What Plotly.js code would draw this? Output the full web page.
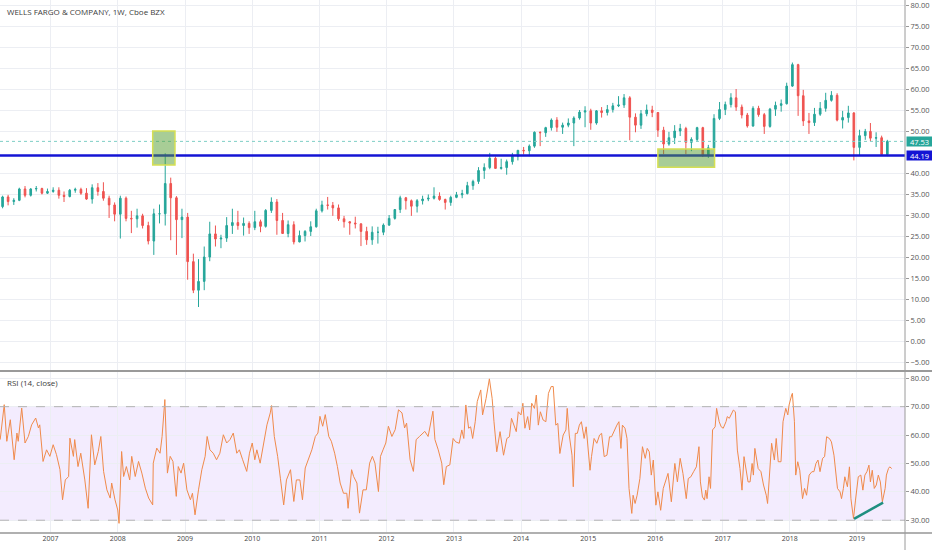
<!DOCTYPE html>
<html>
<head>
<meta charset="utf-8">
<script src="https://cdn.plot.ly/plotly-3.0.1.min.js"></script>
<style>html,body{margin:0;padding:0;background:#fff;}#chart{width:932px;height:550px;}</style>
</head>
<body>
<div id="chart"></div>
<script>
// ---- Monthly candles, WFC (Apr 2006 .. Jun 2019) ----
const firstYear = 2006, firstMonth = 4;
const opens = [
 32.0,34.3,33.2,33.5,36.2,34.7,36.2,36.3,35.2,
 35.6,35.9,34.7,34.4,35.9,36.1,35.2,33.8,36.5,35.6,34.0,32.4,
 30.2,34.0,29.2,29.1,29.8,27.5,23.8,30.3,30.3,37.5,34.1,28.9,
 29.5,18.9,12.1,14.2,20.0,25.5,24.3,24.5,27.5,28.2,27.5,28.0,
 27.0,28.4,27.3,31.1,33.1,28.7,25.6,27.7,23.6,25.1,26.1,27.2,
 31.0,32.4,32.3,31.7,29.1,28.4,28.1,27.9,26.1,24.1,25.9,25.9,
 27.6,29.2,31.3,34.1,33.4,32.1,33.4,33.8,34.0,34.5,33.7,33.0,
 34.2,34.8,35.1,37.0,38.0,40.6,41.3,43.5,41.1,41.3,42.7,44.0,
 45.4,45.3,46.4,49.7,49.6,50.8,52.6,50.9,51.4,51.9,53.1,54.5,
 54.8,51.9,54.8,54.4,55.1,56.0,56.2,57.9,53.3,51.4,54.1,55.0,
 54.4,50.2,46.9,48.4,50.0,50.6,47.3,48.0,50.8,44.3,46.0,53.0,
 55.1,56.3,57.9,55.7,53.8,51.2,55.4,53.9,51.1,55.2,56.1,56.5,
 60.7,65.8,58.4,52.4,52.0,54.0,55.4,57.3,58.5,52.6,53.2,54.3,
 46.1,48.9,49.9,48.3,48.4,44.4
];
const highs = [
 34.6,34.8,34.0,36.5,36.9,36.4,36.9,36.5,36.3,
 36.6,36.6,35.6,36.2,36.5,36.5,36.4,37.3,37.6,37.8,34.6,33.0,
 34.6,34.4,31.0,31.5,30.3,28.4,31.5,32.5,44.7,38.9,34.5,31.5,
 30.5,20.8,19.5,22.5,28.4,27.5,25.3,29.5,31.5,31.0,29.4,28.5,
 31.0,28.9,31.4,34.2,33.8,30.5,28.7,28.5,26.3,26.4,28.5,31.5,
 33.4,34.3,33.1,32.5,29.8,28.5,29.6,28.0,27.2,27.3,27.2,28.0,
 30.0,31.4,34.6,34.3,33.7,33.8,34.6,34.9,36.6,35.4,33.9,34.6,
 35.5,36.0,37.9,38.4,41.4,42.3,44.8,43.9,43.4,43.2,44.8,45.5,
 46.2,46.8,49.9,49.9,51.0,53.0,53.3,52.0,53.0,53.5,55.0,55.9,
 55.3,55.0,55.7,56.2,56.7,58.3,58.8,58.3,54.2,55.0,56.3,56.0,
 54.5,51.0,49.8,51.4,51.7,51.0,48.5,51.0,51.0,46.7,54.0,56.9,
 57.0,59.0,60.0,56.3,54.3,55.9,56.0,54.3,55.5,57.0,57.5,61.5,
 66.3,66.0,59.8,54.3,55.5,56.9,59.1,59.5,59.0,54.8,56.0,54.5,
 50.3,50.5,51.9,49.7,48.9,47.9
];
const lows = [
 31.6,32.3,32.4,33.3,34.2,34.4,35.6,34.9,35.0,
 35.3,33.9,33.1,34.2,35.3,34.8,33.6,32.7,34.6,33.4,29.3,28.5,
 24.4,28.5,25.7,27.0,26.8,23.0,20.5,28.0,27.5,24.0,20.5,24.5,
 14.6,11.4,8.1,12.1,19.0,22.5,22.1,23.6,25.5,26.5,25.1,25.5,
 26.4,25.9,27.0,30.5,25.3,25.6,24.7,23.0,23.5,23.7,25.0,27.0,
 30.6,31.3,29.8,28.6,27.0,25.3,26.8,22.6,22.9,22.9,23.2,25.2,
 27.4,28.9,30.5,31.3,29.8,30.6,32.5,33.3,33.7,33.4,31.3,32.2,
 34.0,34.0,34.9,36.0,37.4,38.6,40.9,41.0,40.8,39.6,42.0,43.0,
 44.4,44.0,46.0,46.4,48.6,50.1,49.8,49.3,50.9,46.4,52.7,50.9,
 50.3,51.5,53.2,53.7,54.4,55.7,55.5,47.8,49.7,50.5,53.5,53.3,
 48.6,44.5,46.5,46.9,48.8,44.5,45.2,47.5,43.8,43.6,45.6,52.6,
 53.8,55.6,54.8,53.0,50.8,51.0,53.4,49.3,50.8,53.6,54.6,56.3,
 60.5,53.6,51.2,49.3,51.2,53.6,54.6,57.0,52.3,50.6,52.0,43.0,
 44.2,47.9,47.6,46.2,44.4,44.0
];
const closes = [
 34.3,33.2,33.5,36.2,34.7,36.2,36.3,35.2,35.6,
 35.9,34.7,34.4,35.9,36.1,35.2,33.8,36.5,35.6,34.0,32.4,30.2,
 34.0,29.2,29.1,29.8,27.5,23.8,30.3,30.3,37.5,34.1,28.9,29.5,
 18.9,12.1,14.2,20.0,25.5,24.3,24.5,27.5,28.2,27.5,28.0,27.0,
 28.4,27.3,31.1,33.1,28.7,25.6,27.7,23.6,25.1,26.1,27.2,31.0,
 32.4,32.3,31.7,29.1,28.4,28.1,27.9,26.1,24.1,25.9,25.9,27.6,
 29.2,31.3,34.1,33.4,32.1,33.4,33.8,34.0,34.5,33.7,33.0,34.2,
 34.8,35.1,37.0,38.0,40.6,41.3,43.5,41.1,41.3,42.7,44.0,45.4,
 45.3,46.4,49.7,49.6,50.8,52.6,50.9,51.4,51.9,53.1,54.5,54.8,
 51.9,54.8,54.4,55.1,56.0,56.2,57.9,53.3,51.4,54.1,55.0,54.4,
 50.2,46.9,48.4,50.0,50.6,47.3,48.0,50.8,44.3,46.0,53.0,55.1,
 56.3,57.9,55.7,53.8,51.2,55.4,53.9,51.1,55.2,56.1,56.5,60.7,
 65.8,58.4,52.4,52.0,54.0,55.4,57.3,58.5,52.6,53.2,54.3,46.1,
 48.9,49.9,48.3,48.4,44.4,47.53
];

// ---- RSI(14, close), time in decimal years ----
const rsiT = [
 2006.25,2006.31,2006.35,2006.40,2006.46,2006.50,2006.52,2006.57,2006.62,2006.67,2006.72,2006.78,2006.82,2006.84,2006.89,2006.94,2006.99,
 2007.04,2007.09,2007.14,2007.18,2007.22,2007.27,2007.29,2007.34,2007.36,2007.41,2007.45,2007.51,2007.56,2007.61,2007.66,2007.71,2007.75,2007.79,2007.84,2007.89,2007.91,2007.96,
 2008.00,2008.02,2008.06,2008.09,2008.13,2008.18,2008.21,2008.26,2008.31,2008.36,2008.41,2008.46,2008.52,2008.53,2008.58,2008.63,2008.66,2008.70,2008.74,2008.78,2008.82,2008.87,2008.90,2008.94,2008.98,
 2009.03,2009.08,2009.11,2009.15,2009.20,2009.25,2009.30,2009.33,2009.37,2009.42,2009.47,2009.52,2009.57,2009.62,2009.67,2009.72,2009.77,2009.81,2009.86,2009.92,2009.96,
 2010.00,2010.04,2010.07,2010.12,2010.17,2010.22,2010.27,2010.29,2010.33,2010.38,2010.42,2010.47,2010.51,2010.57,2010.62,2010.66,2010.71,2010.75,2010.79,2010.84,2010.89,2010.94,2010.98,
 2011.01,2011.05,2011.09,2011.14,2011.18,2011.23,2011.27,2011.31,2011.36,2011.41,2011.43,2011.48,2011.51,2011.56,2011.60,2011.65,2011.70,2011.75,2011.79,2011.83,2011.88,2011.91,2011.95,2011.99,
 2012.03,2012.08,2012.13,2012.18,2012.23,2012.27,2012.30,2012.35,2012.40,2012.44,2012.49,2012.52,2012.57,2012.62,2012.69,2012.72,2012.77,2012.82,2012.85,2012.89,2012.94,2012.99,
 2013.03,2013.08,2013.12,2013.15,2013.18,2013.22,2013.25,2013.28,2013.32,2013.35,2013.40,2013.43,2013.48,2013.53,2013.57,2013.60,2013.64,2013.69,2013.74,2013.79,2013.83,2013.86,2013.90,2013.93,2013.96,
 2014.00,2014.03,2014.06,2014.10,2014.13,2014.16,2014.20,2014.23,2014.26,2014.29,2014.33,2014.37,2014.41,2014.45,2014.48,2014.52,2014.55,2014.58,2014.63,2014.67,2014.69,2014.72,2014.76,2014.78,2014.81,2014.84,2014.87,2014.90,2014.94,2014.97,
 2015.00,2015.03,2015.05,2015.09,2015.13,2015.17,2015.20,2015.24,2015.28,2015.32,2015.35,2015.39,2015.43,2015.46,2015.49,2015.51,2015.55,2015.58,2015.61,2015.65,2015.67,2015.70,2015.73,2015.77,2015.81,2015.85,2015.88,2015.91,2015.94,2015.97,
 2016.01,2016.04,2016.08,2016.12,2016.16,2016.19,2016.24,2016.29,2016.33,2016.37,2016.41,2016.46,2016.49,2016.53,2016.57,2016.61,2016.65,2016.67,2016.70,2016.73,2016.75,2016.77,2016.80,2016.82,2016.85,2016.89,2016.91,2016.95,2016.98,
 2017.01,2017.05,2017.07,2017.10,2017.14,2017.16,2017.19,2017.22,2017.26,2017.29,2017.32,2017.35,2017.38,2017.41,2017.44,2017.46,2017.48,2017.53,2017.57,2017.61,2017.65,2017.67,2017.70,2017.73,2017.77,2017.80,2017.83,2017.87,2017.90,2017.94,2017.97,2017.99,
 2018.03,2018.04,2018.07,2018.09,2018.12,2018.15,2018.19,2018.22,2018.25,2018.29,2018.33,2018.36,2018.39,2018.42,2018.45,2018.49,2018.52,2018.55,2018.59,2018.62,2018.66,2018.69,2018.71,2018.75,2018.77,2018.80,2018.82,2018.86,2018.89,2018.91,2018.95,2018.98,
 2019.02,2019.06,2019.09,2019.12,2019.15,2019.18,2019.20,2019.23,2019.26,2019.29,2019.32,2019.35,2019.38,2019.42,2019.44,2019.47,2019.49,2019.52
];
const rsiV = [
 58.4,70.7,57.8,65.4,51.3,60.7,57.8,69.5,57.2,59.5,63.6,66.0,62.5,63.6,50.7,54.8,52.5,
 56.6,53.1,47.8,37.2,44.2,45.4,58.9,52.5,58.4,48.9,53.6,44.2,34.2,60.1,49.5,54.2,59.5,47.2,40.7,37.8,43.1,37.2,
 33.6,28.9,54.2,45.4,48.9,44.2,52.5,45.4,50.7,46.6,41.3,37.8,35.4,50.1,55.4,53.6,59.5,72.5,46.6,52.5,50.7,38.4,48.9,46.6,50.1,
 40.7,37.2,39.5,31.9,40.7,47.8,52.5,59.5,54.8,53.6,51.3,53.6,60.1,57.2,58.4,60.7,53.6,54.8,51.3,47.2,53.6,
 57.2,51.3,54.8,50.1,57.2,63.6,67.8,70.4,59.5,52.5,44.8,35.4,44.2,47.8,36.6,44.2,44.2,37.2,48.4,51.3,54.8,59.5,60.7,
 66.6,63.1,67.2,59.5,57.8,53.6,48.9,43.1,39.5,39.5,34.2,47.8,45.4,43.1,32.5,40.7,40.7,50.1,52.5,50.1,40.1,52.5,54.8,57.2,
 63.1,59.5,61.9,68.9,67.8,62.5,64.2,51.3,47.2,58.4,59.5,60.1,61.3,59.5,68.4,58.4,54.8,50.1,42.5,48.9,49.5,58.8,
 57.6,57.1,61.8,58.8,70.6,62.4,62.9,58.8,64.7,71.8,75.9,67.1,72.9,79.8,72.9,64.7,54.1,61.2,52.9,58.8,59.4,65.9,62.9,61.2,68.2,
 67.1,71.2,62.4,66.5,61.8,71.2,69.4,74.1,63.5,68.2,65.3,64.7,74.7,77.1,77.1,63.5,64.1,53.5,60.0,61.8,69.4,60.0,52.9,41.8,60.6,60.6,63.5,64.7,58.8,62.9,
 55.3,47.6,52.4,58.8,57.1,60.0,60.6,52.4,52.9,59.4,59.4,61.8,63.5,64.7,55.3,63.5,62.4,58.8,41.2,32.4,38.8,35.9,38.8,44.7,55.9,51.8,55.3,54.1,45.9,51.2,
 35.3,40.0,33.5,41.2,44.7,46.5,36.5,50.0,43.5,51.8,46.5,37.6,44.7,45.3,47.1,48.8,55.9,43.5,38.2,37.1,40.6,37.6,45.3,41.2,61.8,62.9,69.4,64.7,62.9,
 62.4,64.7,66.5,65.9,68.2,68.8,68.2,54.7,48.2,40.6,52.4,47.1,43.5,43.5,50.0,45.9,55.3,48.2,47.1,42.4,38.8,35.9,47.1,57.1,51.2,58.8,50.6,50.6,64.7,69.4,67.1,70.6,
 74.1,74.7,64.7,45.9,50.6,47.6,37.6,41.2,38.8,45.9,47.1,47.1,50.0,51.2,47.1,51.8,52.4,59.4,58.8,57.6,52.9,44.7,41.2,40.0,37.6,41.2,45.3,41.8,48.8,37.6,30.6,37.1,
 45.3,45.9,40.6,45.9,47.1,49.4,43.5,47.6,41.2,42.4,45.9,43.5,36.5,41.2,45.9,48.2,48.8,48.2
];
const rsiTrendT = [2018.957, 2019.39];
const rsiTrendV = [30.5, 36.2];

// ---- drawings ----
const zones = [
  {t0: 2008.52, t1: 2008.85, p0: 41.9, p1: 50.0},
  {t0: 2016.04, t1: 2016.88, p0: 41.36, p1: 45.7}
];
const supportLevel = 44.19;
const lastPrice = 47.53;
const priceTicks = [80,75,70,65,60,55,50,40,35,30,25,20,15,10,5,0,-5];
const rsiTicks = [30,40,50,60,70,80];

function dy(t){
  const y = Math.floor(t);
  const s = Date.UTC(y,0,1), e = Date.UTC(y+1,0,1);
  return new Date(s + (t-y)*(e-s)).toISOString().slice(0,10);
}
const candleX = closes.map((_, i) => {
  const m = firstMonth - 1 + i;
  const y = firstYear + Math.floor(m/12);
  const mm = (m % 12) + 1;
  return y + '-' + String(mm).padStart(2,'0') + '-15';
});

const FONT = 'Open Sans, DejaVu Sans, sans-serif';

const traces = [
  {
    type: 'candlestick', x: candleX, open: opens, high: highs, low: lows, close: closes,
    xaxis: 'x', yaxis: 'y',
    increasing: {line: {color: '#26a69a', width: 1}, fillcolor: '#26a69a'},
    decreasing: {line: {color: '#ef5350', width: 1}, fillcolor: '#ef5350'},
    whiskerwidth: 0, hoverinfo: 'skip'
  },
  {
    type: 'scatter', mode: 'lines', x: rsiT.map(dy), y: rsiV, xaxis: 'x', yaxis: 'y2',
    line: {color: '#f08a4b', width: 1}, hoverinfo: 'skip'
  },
  {
    type: 'scatter', mode: 'lines', x: rsiTrendT.map(dy), y: rsiTrendV, xaxis: 'x', yaxis: 'y2',
    line: {color: '#1f8f80', width: 2.5}, hoverinfo: 'skip'
  }
];

const shapes = [
  {type:'rect', xref:'paper', yref:'y2', x0:0, x1:1, y0:30, y1:70, fillcolor:'#f3ecfe', line:{width:0}, layer:'below'},
  {type:'line', xref:'paper', yref:'y2', x0:0, x1:1, y0:70, y1:70, line:{color:'#b4b4b4', width:1, dash:'dash'}},
  {type:'line', xref:'paper', yref:'y2', x0:0, x1:1, y0:30, y1:30, line:{color:'#b4b4b4', width:1, dash:'dash'}},
  {type:'line', xref:'paper', yref:'y', x0:0, x1:1, y0:lastPrice, y1:lastPrice, line:{color:'#7fcfc5', width:1, dash:'dot'}},
  {type:'line', xref:'paper', yref:'y', x0:0, x1:1, y0:supportLevel, y1:supportLevel, line:{color:'#1414d4', width:2.5}},
  {type:'line', xref:'paper', yref:'paper', x0:0, x1:1.03, y0:0.3039, y1:0.3039, line:{color:'#9a9a9a', width:2}},
  {type:'line', xref:'paper', yref:'paper', x0:0, x1:1.03, y0:0, y1:0, line:{color:'#b0b0b0', width:2}},
  {type:'line', xref:'paper', yref:'paper', x0:1, x1:1, y0:-0.033, y1:1, line:{color:'#9a9a9a', width:1}}
];
zones.forEach(z => shapes.push({
  type:'rect', xref:'x', yref:'y', x0: dy(z.t0), x1: dy(z.t1), y0: z.p0, y1: z.p1,
  fillcolor:'rgba(82,155,46,0.5)', line:{color:'#d6df52', width:1.5}
}));

const annotations = [
  {xref:'paper', yref:'paper', x:5/905, y:1-11/533, xanchor:'left', yanchor:'middle', showarrow:false,
   text:'WELLS FARGO & COMPANY, 1W, Cboe BZX', font:{family:FONT, size:8, color:'#3c3c3c'}},
  {xref:'paper', yref:'paper', x:5/905, y:1-382/533, xanchor:'left', yanchor:'middle', showarrow:false,
   text:'RSI (14, close)', font:{family:FONT, size:8, color:'#3c3c3c'}},
  {xref:'paper', yref:'y', x:1, y:lastPrice, xanchor:'left', yanchor:'middle', xshift:1, showarrow:false,
   text: lastPrice.toFixed(2), bgcolor:'#26a69a', width:25, height:9, borderpad:0,
   font:{family:FONT, size:7.5, color:'#ffffff'}},
  {xref:'paper', yref:'y', x:1, y:supportLevel, xanchor:'left', yanchor:'middle', xshift:1, showarrow:false,
   text: supportLevel.toFixed(2), bgcolor:'#1414d4', width:25, height:9, borderpad:0,
   font:{family:FONT, size:7.5, color:'#ffffff'}}
];

const layout = {
  width: 932, height: 550,
  margin: {l:0, r:27, t:0, b:17, pad:0},
  paper_bgcolor:'#ffffff', plot_bgcolor:'#ffffff',
  showlegend:false, boxgap:0.55,
  font:{family:FONT, size:7.5, color:'#555'},
  xaxis: {
    type:'date', anchor:'y2', range:[dy(2006.2485), dy(2019.716)],
    rangeslider:{visible:false}, showgrid:true, gridcolor:'#eceef3', gridwidth:1,
    tick0:'2007-01-01', dtick:'M12', tickformat:'%Y', ticks:'', zeroline:false, showline:false,
    tickfont:{family:FONT, size:7, color:'#444'}
  },
  yaxis: {
    domain:[0.3058, 1], range:[-6.9, 81.19], side:'right', tickmode:'array', tickvals: priceTicks,
    tickformat:'.2f', ticks:'outside', ticklen:3, tickcolor:'#999', gridcolor:'#eceef3',
    zeroline:false, showline:false, ticklabeloverflow:'allow',
    tickfont:{family:FONT, size:7.5, color:'#555'}
  },
  yaxis2: {
    domain:[0, 0.302], range:[25.5, 82.2], side:'right', tickmode:'array', tickvals: rsiTicks,
    tickformat:'.2f', ticks:'outside', ticklen:3, tickcolor:'#999', gridcolor:'#eceef3',
    zeroline:false, showline:false, ticklabeloverflow:'allow',
    tickfont:{family:FONT, size:7.5, color:'#555'}
  },
  shapes: shapes,
  annotations: annotations
};

Plotly.newPlot('chart', traces, layout, {staticPlot:true, displayModeBar:false});
</script>
</body>
</html>
